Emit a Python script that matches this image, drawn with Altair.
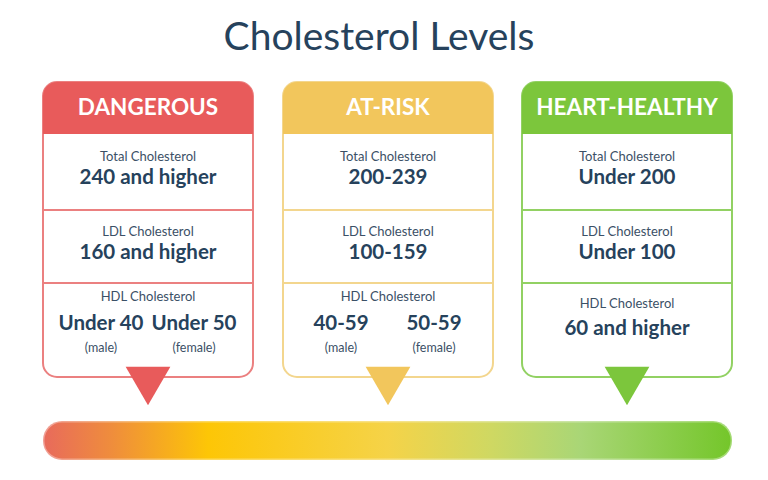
import altair as alt
import pandas as pd

levels = ["DANGEROUS", "AT-RISK", "HEART-HEALTHY"]
level_colors = ["#e85b5b", "#f2c65c", "#7cc63c"]
border_colors = ["#eb8080", "#f3d68e", "#92d163"]
row_labels = ["Total Cholesterol", "LDL Cholesterol", "HDL Cholesterol"]
total_values = ["240 and higher", "200-239", "Under 200"]
ldl_values = ["160 and higher", "100-159", "Under 100"]
hdl_male = ["Under 40", "40-59", ""]
hdl_female = ["Under 50", "50-59", ""]
hdl_single = ["", "", "60 and higher"]
sex_labels = ["(male)", "(female)"]
bar_stops = [
    (0.0, "#e86a5c"), (0.1, "#ef8d3c"), (0.24, "#fdc606"), (0.5, "#f5d348"),
    (0.65, "#cfd862"), (0.78, "#a9d676"), (1.0, "#74c62a"),
]

# layout (page pixels)
LEFT = [43, 283, 522]
W = 210
TOP, HEAD, BOTTOM = 82, 134, 377
DIVIDERS = [210, 283]
DARK = "#26425c"
LABEL = "#3b5066"
FONT = "Lato"

panels = pd.DataFrame({
    "level": levels,
    "x": LEFT,
    "x2": [l + W for l in LEFT],
    "cx": [l + W / 2 for l in LEFT],
})

rules = pd.DataFrame([
    {"level": lv, "x": l, "x2": l + W, "y": d}
    for lv, l in zip(levels, LEFT) for d in DIVIDERS
])

texts = []
for i, lv in enumerate(levels):
    cx = LEFT[i] + W / 2
    texts.append({"kind": "head", "x": cx, "y": 108, "text": lv})
    texts.append({"kind": "label", "x": cx, "y": 157, "text": row_labels[0]})
    texts.append({"kind": "value", "x": cx, "y": 178, "text": total_values[i]})
    texts.append({"kind": "label", "x": cx, "y": 232, "text": row_labels[1]})
    texts.append({"kind": "value", "x": cx, "y": 253, "text": ldl_values[i]})
    if hdl_single[i]:
        texts.append({"kind": "label", "x": cx, "y": 304, "text": row_labels[2]})
        texts.append({"kind": "value", "x": cx, "y": 329, "text": hdl_single[i]})
    else:
        texts.append({"kind": "label", "x": cx, "y": 297, "text": row_labels[2]})
        texts.append({"kind": "value", "x": cx - 47, "y": 324, "text": hdl_male[i]})
        texts.append({"kind": "value", "x": cx + 46, "y": 324, "text": hdl_female[i]})
        texts.append({"kind": "sex", "x": cx - 47, "y": 348, "text": sex_labels[0]})
        texts.append({"kind": "sex", "x": cx + 46, "y": 348, "text": sex_labels[1]})
texts.append({"kind": "title", "x": 379, "y": 38, "text": "Cholesterol Levels"})
texts = pd.DataFrame(texts)

xs = alt.Scale(domain=[8, 760], nice=False, zero=False)
ys = alt.Scale(domain=[8, 472], nice=False, zero=False, reverse=True)
fill_scale = alt.Scale(domain=levels, range=level_colors)
border_scale = alt.Scale(domain=levels, range=border_colors)


def X(f="x"):
    return alt.X(f + ":Q", scale=xs, axis=None)


def Y(f="y"):
    return alt.Y(f + ":Q", scale=ys, axis=None)


box = alt.Chart(panels).mark_rect(
    fill="white", strokeWidth=2, cornerRadius=14
).encode(
    x=X(), x2="x2", y=alt.Y("top:Q", scale=ys, axis=None), y2="bottom:Q",
    stroke=alt.Stroke("level:N", scale=border_scale, legend=None),
).transform_calculate(top=str(TOP), bottom=str(BOTTOM))

header = alt.Chart(panels).mark_rect(
    cornerRadiusTopLeft=14, cornerRadiusTopRight=14
).encode(
    x=X(), x2="x2", y=alt.Y("top:Q", scale=ys, axis=None), y2="head:Q",
    fill=alt.Fill("level:N", scale=fill_scale, legend=None),
).transform_calculate(top=str(TOP), head=str(HEAD))

divider = alt.Chart(rules).mark_rule(strokeWidth=2).encode(
    x=X(), x2="x2", y=Y(),
    stroke=alt.Stroke("level:N", scale=border_scale, legend=None),
)

pointer = alt.Chart(panels).mark_point(
    shape="triangle-down", filled=True, size=2000, opacity=1, strokeWidth=0
).encode(
    x=X("cx"), y=alt.Y("py:Q", scale=ys, axis=None),
    color=alt.Color("level:N", scale=fill_scale, legend=None),
).transform_calculate(py="386")

bar_df = pd.DataFrame({"x": [43], "x2": [732], "y": [421], "y2": [460]})
gradient = alt.LinearGradient(
    gradient="linear",
    stops=[alt.GradientStop(offset=o, color=c) for o, c in bar_stops],
    x1=0, x2=1, y1=0, y2=0,
)
bar = alt.Chart(bar_df).mark_rect(
    cornerRadius=19, color=gradient, stroke="white", strokeOpacity=0.35, strokeWidth=3
).encode(x=X(), x2="x2", y=Y(), y2="y2")


def text_layer(kind, **style):
    return alt.Chart(texts).transform_filter(
        alt.datum.kind == kind
    ).mark_text(baseline="middle", align="center", font=FONT, **style).encode(
        x=X(), y=Y(), text="text:N"
    )


chart = alt.layer(
    box, header, divider, pointer, bar,
    text_layer("title", fontSize=39, color=DARK),
    text_layer("head", fontSize=22.5, fontWeight="bold", color="white"),
    text_layer("label", fontSize=13, color=LABEL),
    text_layer("value", fontSize=20.5, fontWeight="bold", color=DARK),
    text_layer("sex", fontSize=12.5, color=LABEL),
).properties(
    width=752, height=464, padding=0, autosize=alt.AutoSizeParams(type="none")
).configure_view(strokeWidth=0)

chart.save("out.html", embed_options={"renderer": "svg", "actions": False})
